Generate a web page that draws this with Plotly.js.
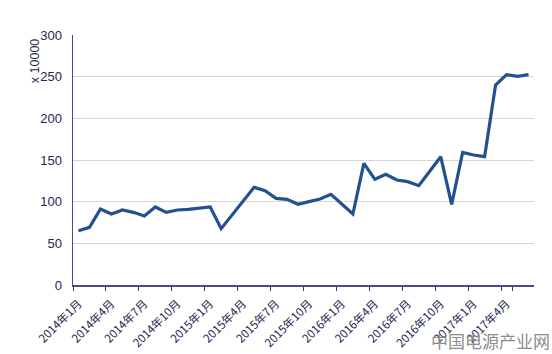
<!DOCTYPE html>
<html>
<head>
<meta charset="utf-8">
<script src="https://cdn.plot.ly/plotly-3.0.1.min.js"></script>
<style>html,body{margin:0;padding:0;background:#fff;}#chart{width:552px;height:354px;}</style>
</head>
<body>
<div id="chart"></div>
<script>
const months = [
  "2014年1月","2014年2月","2014年3月","2014年4月","2014年5月","2014年6月","2014年7月","2014年8月","2014年9月","2014年10月","2014年11月","2014年12月",
  "2015年1月","2015年2月","2015年3月","2015年4月","2015年5月","2015年6月","2015年7月","2015年8月","2015年9月","2015年10月","2015年11月","2015年12月",
  "2016年1月","2016年2月","2016年3月","2016年4月","2016年5月","2016年6月","2016年7月","2016年8月","2016年9月","2016年10月","2016年11月","2016年12月",
  "2017年1月","2017年2月","2017年3月","2017年4月","2017年5月","2017年6月"
];
const values = [
  65.2, 69.2, 91.2, 85.2, 90, 87.2, 82.8, 93.6, 87.2, 90, 90.8, 92.4,
  93.6, 67.6, null, null, 117.2, 113.2, 104, 102.8, 96.8, 100, 103.2, 108.8,
  97, 85.2, 146, 126.8, 132.8, 126, 124, 119.2, 136.6, 154, 96.8, 159.2,
  156, 154, 240, 252.4, 250.4, 252.4
];
const tickLabels = months.filter((m, i) => i % 3 === 0);
const yTicks = [0, 50, 100, 150, 200, 250, 300];

const trace = {
  x: months, y: values, type: 'scatter', mode: 'lines',
  connectgaps: true,
  line: {color: '#23518f', width: 3.2},
  hoverinfo: 'skip'
};

const layout = {
  width: 552, height: 354,
  margin: {l: 73, r: 18, t: 35, b: 69},
  paper_bgcolor: '#ffffff', plot_bgcolor: '#ffffff',
  showlegend: false,
  xaxis: {
    type: 'category',
    tickmode: 'array', tickvals: tickLabels, ticktext: tickLabels,
    tickson: 'boundaries',
    ticks: 'outside', ticklen: 4, tickcolor: '#3c3c78', tickwidth: 1,
    tickangle: -45,
    ticklabelstandoff: 6,
    tickfont: {family: 'Noto Sans CJK SC, sans-serif', size: 11.5, color: '#26264f'},
    showline: true, linecolor: '#4a4a88', linewidth: 1.5,
    showgrid: false, zeroline: false,
    range: [-0.5, 41.5]
  },
  yaxis: {
    range: [0, 300], tickmode: 'array', tickvals: yTicks,
    ticks: '', ticklen: 0,
    ticklabelstandoff: 7,
    tickfont: {family: 'Liberation Sans, Arial, sans-serif', size: 13, color: '#26264f'},
    showline: true, linecolor: '#4a4a88', linewidth: 1.5,
    showgrid: true, gridcolor: '#d6d6d6', gridwidth: 1,
    zeroline: false
  },
  annotations: [
    {text: 'x 10000', xref: 'paper', yref: 'paper', x: -0.082, y: 0.896,
     textangle: -90, showarrow: false, xanchor: 'center', yanchor: 'middle',
     font: {family: 'Liberation Sans, Arial, sans-serif', size: 12.5, color: '#26264f'}},
    {text: '中国电源产业网', xref: 'paper', yref: 'paper', x: 1.04, y: -0.28,
     xanchor: 'right', yanchor: 'bottom', showarrow: false,
     font: {family: 'Noto Sans CJK SC, sans-serif', size: 17, color: '#8c8c8c'}}
  ]
};

Plotly.newPlot('chart', [trace], layout, {staticPlot: true, displayModeBar: false});
</script>
</body>
</html>
